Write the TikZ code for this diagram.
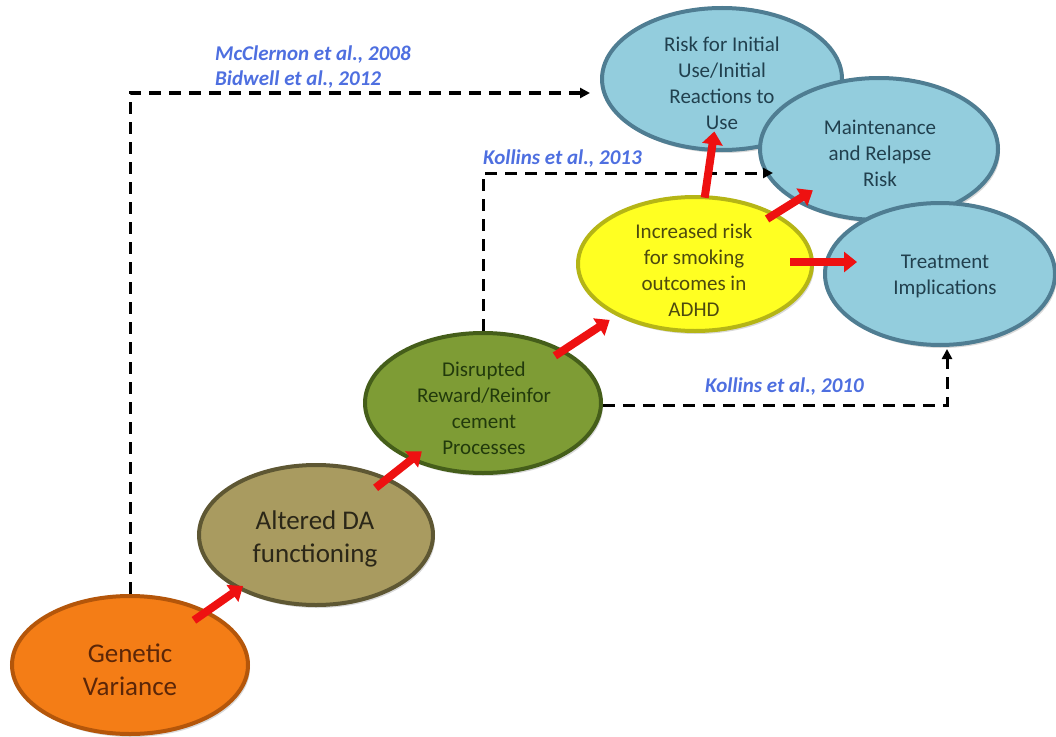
\documentclass[tikz,border=0pt]{standalone}
\usepackage{fontspec}
\setmainfont{Carlito}
\usetikzlibrary{arrows.meta,shapes.geometric,shadows,calc}
\definecolor{orF}{HTML}{F47D16}\definecolor{orD}{HTML}{B4560A}\definecolor{orT}{HTML}{5B2608}
\definecolor{olF}{HTML}{A99B60}\definecolor{olD}{HTML}{5E5733}\definecolor{olT}{HTML}{2B2718}
\definecolor{grF}{HTML}{7E9C35}\definecolor{grD}{HTML}{455E1A}\definecolor{grT}{HTML}{223A0C}
\definecolor{yeF}{HTML}{FFFF22}\definecolor{yeD}{HTML}{B5B516}\definecolor{yeT}{HTML}{4D4A0E}
\definecolor{blF}{HTML}{93CDDD}\definecolor{blD}{HTML}{4F7D92}\definecolor{blT}{HTML}{21404E}
\definecolor{refblue}{HTML}{4E6FE0}
\definecolor{arrred}{HTML}{EE1111}
\begin{document}
\begin{tikzpicture}[x=1bp,y=-1bp,
  bubble/.style={ellipse,inner sep=0pt,line width=4bp,
    drop shadow={opacity=0.3,shadow xshift=2bp,shadow yshift=-3bp}},
  bigtxt/.style={align=center,font=\fontsize{27bp}{33bp}\selectfont},
  smalltxt/.style={align=center,font=\fontsize{21bp}{26bp}\selectfont},
  reflabel/.style={anchor=west,inner sep=0pt,text=refblue,font=\fontsize{21bp}{25bp}\selectfont\bfseries\itshape},
  redarrow/.style={draw=arrred,line width=8bp,-{Triangle[length=13bp,width=20bp]}},
  dasharrow/.style={draw=black,line width=3bp,dash pattern=on 12bp off 8bp,-{Triangle[length=10bp,width=10bp]}}
]
\useasboundingbox (0,0) rectangle (1056,737);

% ellipses
\node[bubble,minimum width=236bp,minimum height=138bp,fill=orF,draw=orD] (gv) at (130,665) {};
\node[bubble,minimum width=234bp,minimum height=140bp,fill=olF,draw=olD] (ad) at (316,535) {};
\node[bubble,minimum width=236bp,minimum height=140bp,fill=grF,draw=grD] (dr) at (483,403) {};
\node[bubble,minimum width=234bp,minimum height=134bp,fill=yeF,draw=yeD] (yl) at (695,264) {};
\node[bubble,minimum width=240bp,minimum height=142bp,fill=blF,draw=blD] (ri) at (722,79) {};
\node[bubble,minimum width=238bp,minimum height=142bp,fill=blF,draw=blD] (mr) at (879,149) {};
\node[bubble,minimum width=230bp,minimum height=142bp,fill=blF,draw=blD] (tr) at (940,274) {};

% texts
\node[bigtxt,text=orT] (gvt) at (130,670) {Genetic\\Variance};
\node[bigtxt,text=olT] (adt) at (315,539) {Altered DA\\functioning};
\node[smalltxt,text=grT] (drt) at (484,408) {Disrupted\\Reward/Reinfor\\cement\\Processes};
\node[smalltxt,text=yeT] (ylt) at (694,270) {Increased risk\\for smoking\\outcomes in\\ADHD};
\node[smalltxt,text=blT] (rit) at (722,83) {Risk for Initial\\Use/Initial\\Reactions to\\Use};
\node[smalltxt,text=blT] (mrt) at (880,153) {Maintenance\\and Relapse\\Risk};
\node[smalltxt,text=blT] (trt) at (945,276) {Treatment\\Implications};

% reference labels
\node[reflabel] (l1) at (215,55) {McClernon et al., 2008};
\node[reflabel] (l2) at (215,80) {Bidwell et al., 2012};
\node[reflabel] (l3) at (483,159) {Kollins et al., 2013};
\node[reflabel] (l4) at (705,387) {Kollins et al., 2010};

% dashed connectors
\coordinate (c1) at (590,93);
\coordinate (c2) at (773,173);
\coordinate (c3) at (947,349);
\draw[dasharrow] (gv.north) |- (c1);
\draw[dasharrow] (dr.north) |- (c2);
\draw[dasharrow] ([yshift=-2bp]dr.east) -| (c3);

% red arrows
\draw[redarrow,shorten <=78bp,shorten >=89bp] (gv.center) -- (ad.center);
\draw[redarrow,shorten <=76bp,shorten >=78bp] (ad.center) -- (dr.center);
\draw[redarrow,shorten <=86bp,shorten >=102bp] (dr.center) -- (yl.center);
\draw[redarrow,shorten <=67bp,shorten >=53bp] (yl.center) -- (ri.center);
\draw[redarrow,shorten <=85bp,shorten >=78bp] (yl.center) -- (mr.center);
\draw[redarrow] ($(yl.center)+(95,-2)$) -- ($(tr.center)+(-83,-12)$);
\end{tikzpicture}
\end{document}
